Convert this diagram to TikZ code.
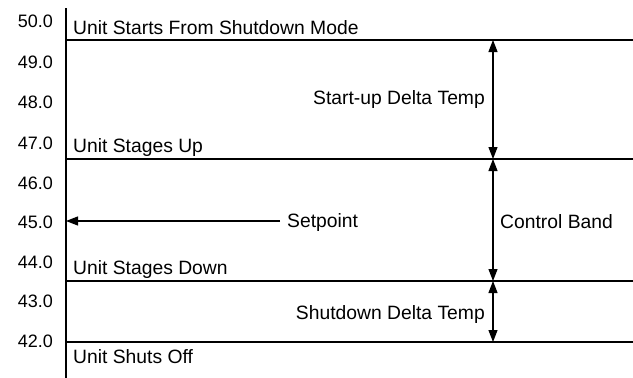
\documentclass[tikz,border=0pt]{standalone}
\usepackage{fontspec}
\setmainfont{Liberation Sans}
\usetikzlibrary{arrows.meta}
\begin{document}
\begin{tikzpicture}[x=1pt,y=-1pt,
  rule/.style={line width=1.4pt},
  dim/.style={line width=1.2pt,{Triangle[length=12pt,width=9pt]}-{Triangle[length=12pt,width=9pt]}},
  tick/.style={anchor=east,inner sep=0pt,font=\fontsize{18}{20}\selectfont},
  lbl/.style={inner sep=0pt,font=\fontsize{19.3}{21}\selectfont}]
\useasboundingbox (0,0) rectangle (633,378);
% axis
\coordinate (atop) at (66,8);
\coordinate (abot) at (66,378);
\draw[rule] (atop) -- (abot);
% horizontal levels
\foreach \n/\y in {a/40,b/159,c/281,d/342}{
  \coordinate (\n L) at (66,\y);
  \coordinate (\n R) at (633,\y);
  \coordinate (\n M) at (493,\y);
  \draw[rule] (\n L) -- (\n R);
}
% tick labels
\foreach \v/\y in {50.0/21,49.0/62,48.0/102,47.0/143,46.0/183,45.0/222,44.0/262,43.0/301,42.0/341}{
  \node[tick] (t\v) at (53,\y) {\v};
}
% level texts
\node[lbl,anchor=west] (starts) at (73,28) {Unit Starts From Shutdown Mode};
\node[lbl,anchor=west] (up) at (73,148) {Unit Stages Up};
\node[lbl,anchor=west] (down) at (73,270) {Unit Stages Down};
\node[lbl,anchor=west] (off) at (73,357) {Unit Shuts Off};
% dimension arrows
\draw[dim] (aM) -- (bM);
\draw[dim] (bM) -- (cM);
\draw[dim] (cM) -- (dM);
\node[lbl,anchor=east] (startup) at (485,100) {Start-up Delta Temp};
\node[lbl,anchor=west] (band) at (500,222) {Control Band};
\node[lbl,anchor=east] (shutdown) at (485,315) {Shutdown Delta Temp};
% setpoint
\node[lbl,anchor=west] (setpoint) at (287,223) {Setpoint};
\coordinate (sp) at (66,221);
\draw[line width=1.2pt,-{Triangle[length=12pt,width=9pt]}] (280,221) -- (sp);
\end{tikzpicture}
\end{document}
